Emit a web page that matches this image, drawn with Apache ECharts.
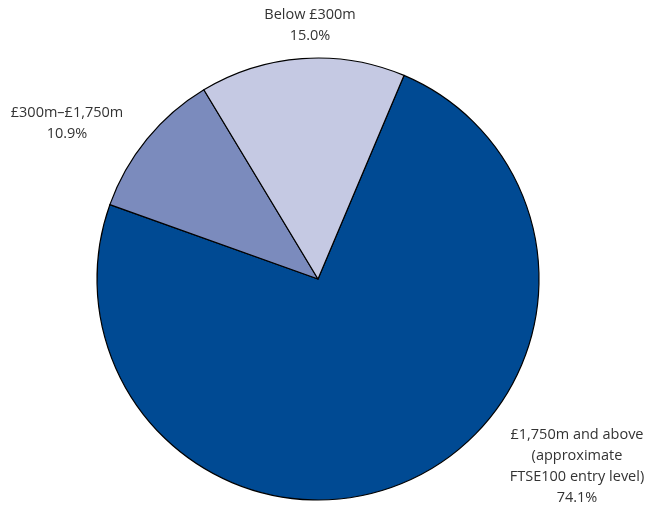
<!DOCTYPE html>
<html><head><meta charset="utf-8">
<script src="https://cdn.jsdelivr.net/npm/echarts@6/dist/echarts.min.js"></script>
<style>html,body{margin:0;padding:0;background:#fff}#c{width:650px;height:508px}</style>
</head><body><div id="c"></div>
<script>
const categories = ['£1,750m and above\n(approximate\nFTSE100 entry level)', '£300m–£1,750m', 'Below £300m'];
const values = [74.1, 10.9, 15.0];
const colors = ['#004a93', '#7b8bbd', '#c5c9e3'];
const labelPos = [[577, 466], [67, 123], [310, 25]];

const chart = echarts.init(document.getElementById('c'), null, {renderer: 'canvas'});
chart.setOption({
  animation: false,
  series: [{
    type: 'pie',
    center: [318, 279],
    radius: 221,
    startAngle: 67.1,
    clockwise: true,
    data: categories.map((n, i) => ({name: n, value: values[i], itemStyle: {color: colors[i]}})),
    itemStyle: {borderColor: '#000', borderWidth: 1.2},
    label: {
      show: true, position: 'outside',
      formatter: p => p.name + '\n' + p.value.toFixed(1) + '%',
      color: '#333', fontSize: 14.5, lineHeight: 21, align: 'center',
      fontFamily: 'Open Sans', overflow: 'none', width: 200
    },
    labelLine: {show: false},
    labelLayout: function (p) {
      const pos = labelPos[p.dataIndex];
      return {x: pos[0], y: pos[1], align: 'center', verticalAlign: 'middle', hideOverlap: false, moveOverlap: false};
    },
    emphasis: {disabled: true}
  }]
});
</script></body></html>
